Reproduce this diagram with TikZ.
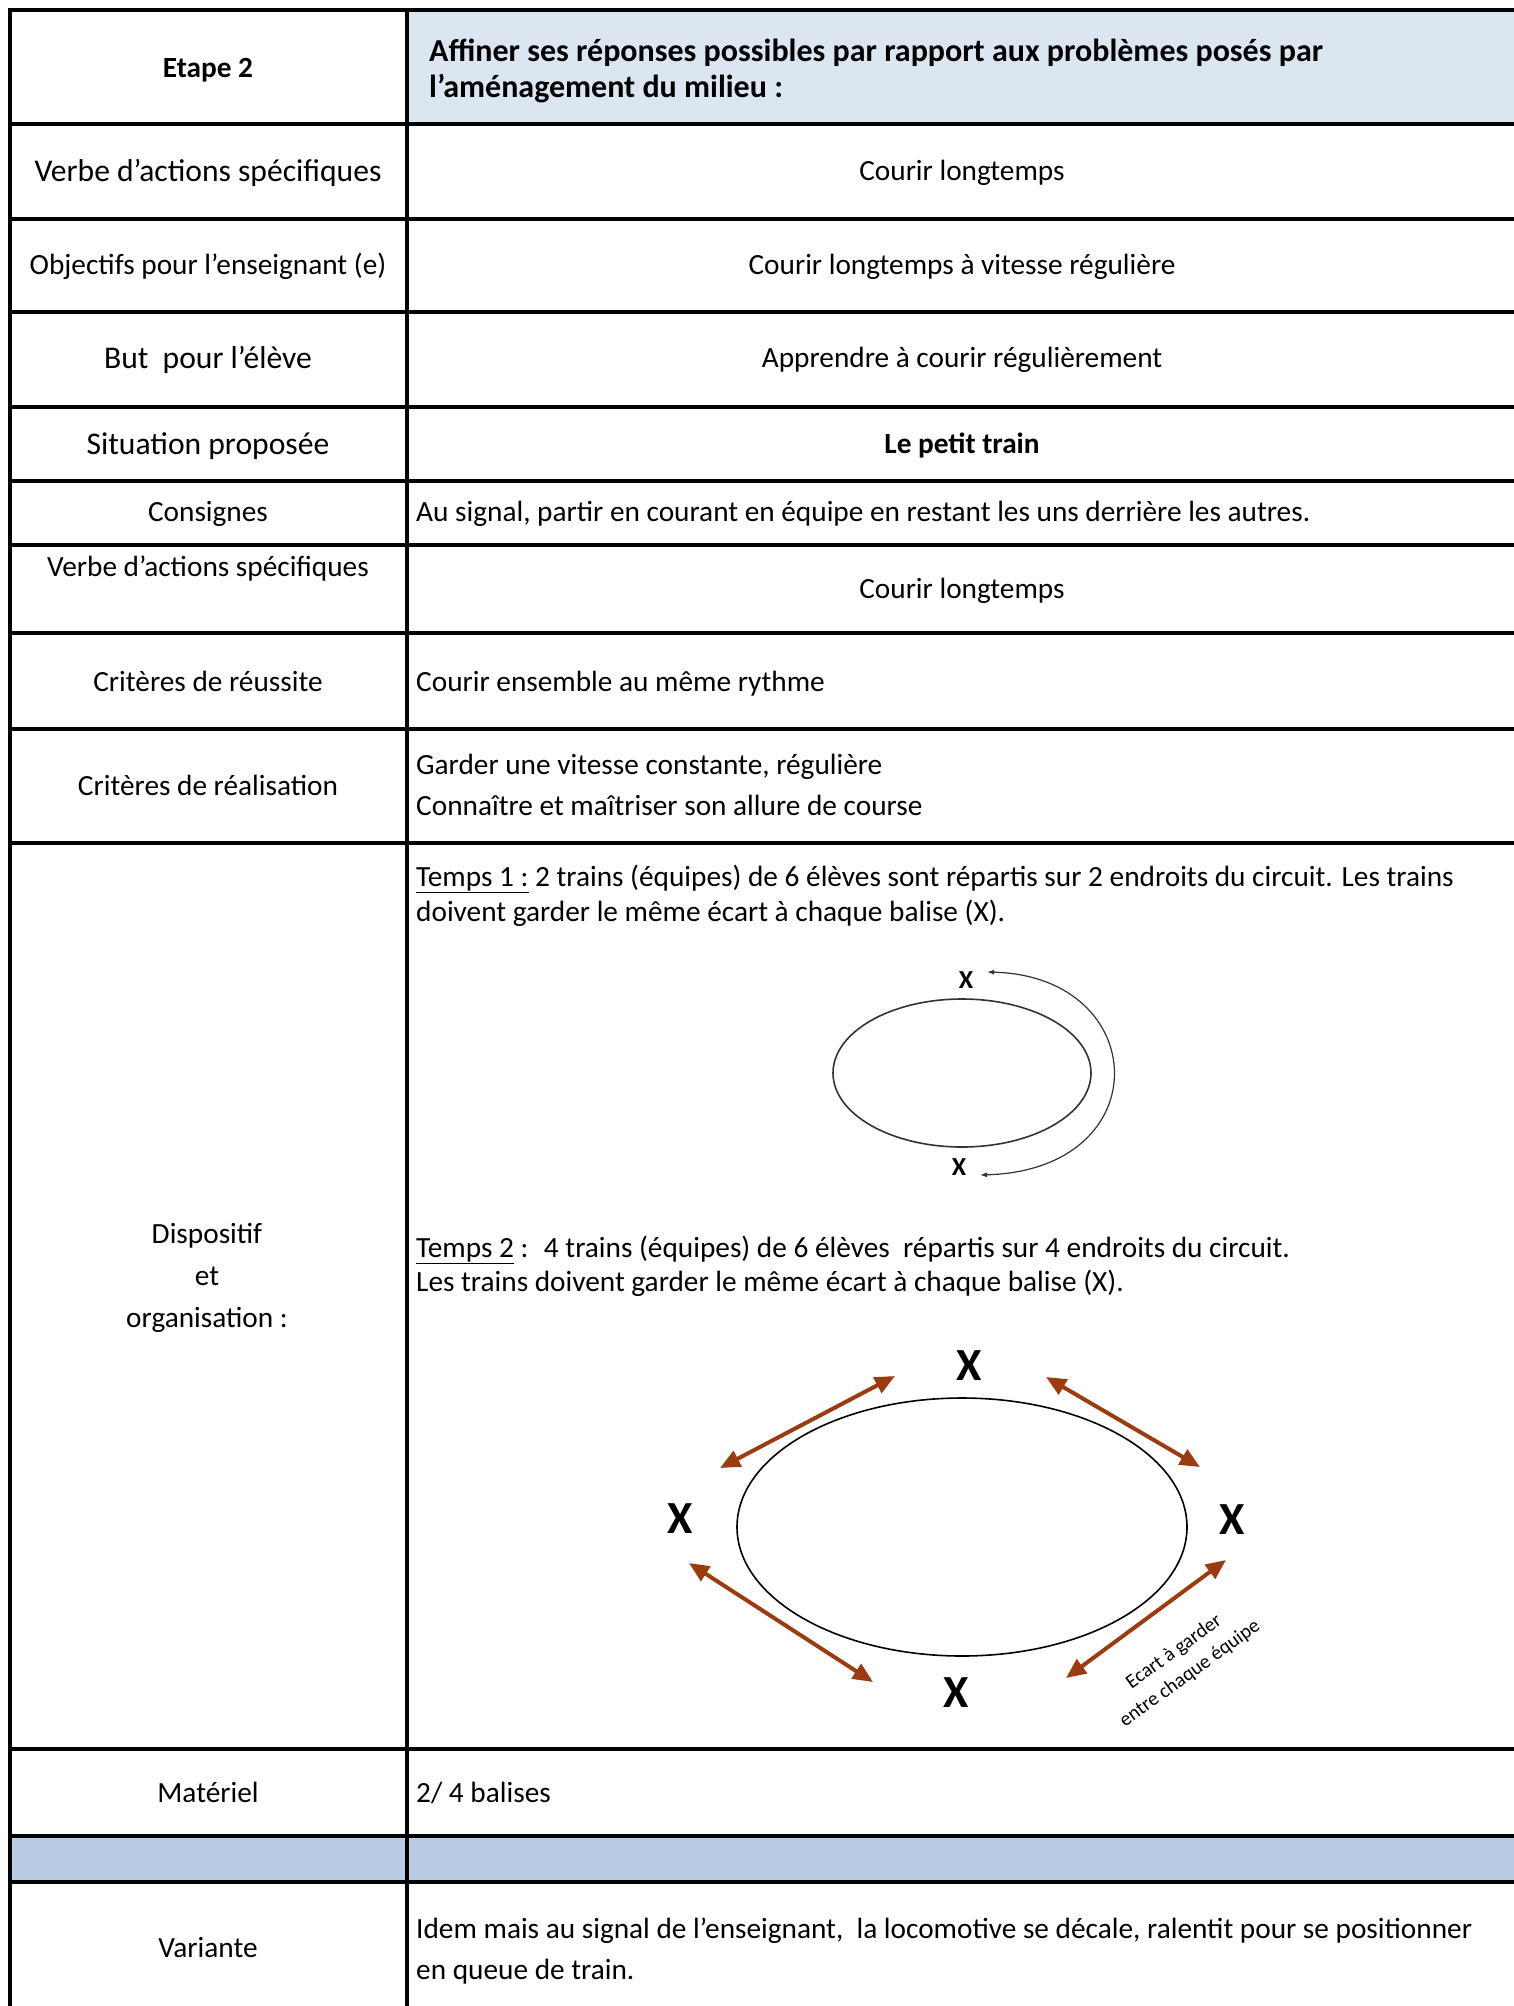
\documentclass[tikz,border=0pt]{standalone}
\usepackage{fontspec}
\setmainfont{Carlito}
\usetikzlibrary{arrows.meta}
\usepackage{xcolor}
\definecolor{headblue}{RGB}{220,230,241}
\definecolor{bandblue}{RGB}{184,204,228}
\definecolor{arrowbrown}{RGB}{156,58,16}

\begin{document}
\begin{tikzpicture}[x=1pt,y=-1pt,every node/.style={inner sep=0pt},
    lab/.style={font=\fontsize{29.3}{35}\selectfont,anchor=base},
    biglab/.style={font=\fontsize{31.6}{38}\selectfont,anchor=base},
    txt/.style={font=\fontsize{29.3}{35}\selectfont,anchor=base west},
    boldtxt/.style={font=\fontsize{32}{38}\selectfont\bfseries,anchor=base west},
    rule/.style={line width=3.2pt},
    track/.style={line width=1.6pt},
    brownarrow/.style={line width=4pt,color=arrowbrown,<->,>={Triangle[length=20pt,width=17pt]}},
    smallx/.style={font=\fontsize{26}{30}\selectfont\bfseries},
    bigx/.style={font=\fontsize{46}{50}\selectfont\bfseries}]
    \useasboundingbox (0,0) rectangle (1514,2006);
    % cell colours
    \fill[headblue] (407,10) rectangle (1514,124);
    \fill[bandblue] (10,1836) rectangle (1514,1882);
    % table rules
    \foreach \y in {10,124,219,312,407,481,545,633,729,843,1749,1836,1882}
    \draw[rule] (8.4,\y) -- (1514,\y);
    \foreach \x in {10,407}
    \draw[rule] (\x,8.4) -- (\x,2006);

    % left column
    \node[lab,font=\fontsize{29.3}{35}\selectfont\bfseries] (l1) at (208,77) {Etape 2};
    \node[biglab] (l2) at (208,181) {Verbe d’actions spécifiques};
    \node[lab] (l3) at (208,274) {Objectifs pour l’enseignant (e)};
    \node[biglab] (l4) at (208,368) {But~ pour l’élève};
    \node[biglab] (l5) at (208,454) {Situation proposée};
    \node[lab] (l6) at (208,521) {Consignes};
    \node[lab] (l7) at (208,576) {Verbe d’actions spécifiques};
    \node[lab] (l8) at (208,691) {Critères de réussite};
    \node[lab] (l9) at (208,795) {Critères de réalisation};
    \node[lab] (l10a) at (207,1243) {Dispositif};
    \node[lab] (l10b) at (207,1285) {et};
    \node[lab] (l10c) at (207,1327) {organisation :};
    \node[lab] (l11) at (208,1802) {Matériel};
    \node[lab] (l13) at (208,1957) {Variante};

    % right column
    \node[boldtxt] (r1a) at (429,61) {Affiner ses réponses possibles par rapport aux problèmes posés par};
    \node[boldtxt] (r1b) at (429,97) {l’aménagement du milieu :};
    \node[lab] (r2) at (962,180) {Courir longtemps};
    \node[lab] (r3) at (962,274) {Courir longtemps à vitesse régulière};
    \node[lab] (r4) at (962,367) {Apprendre à courir régulièrement};
    \node[lab,font=\fontsize{29.3}{35}\selectfont\bfseries] (r5) at (962,453) {Le petit train};
    \node[txt] (r6) at (416,521) {Au signal, partir en courant en équipe en restant les uns derrière les autres.};
    \node[lab] (r7) at (962,598) {Courir longtemps};
    \node[txt] (r8) at (416,691) {Courir ensemble au même rythme};
    \node[txt] (r9a) at (416,774) {Garder une vitesse constante, régulière};
    \node[txt] (r9b) at (416,815) {Connaître et maîtriser son allure de course};
    \node[txt] (t1a) at (416,886) {\underline{Temps 1 :} 2 trains (équipes) de 6 élèves sont répartis sur 2 endroits du circuit. Les trains};
    \node[txt] (t1b) at (416,921) {doivent garder le même écart à chaque balise (X).};
    \node[txt] (t2a) at (416,1257) {\underline{Temps 2} :~ 4 trains (équipes) de 6 élèves~ répartis sur 4 endroits du circuit.};
    \node[txt] (t2b) at (416,1291) {Les trains doivent garder le même écart à chaque balise (X).};
    \node[txt] (r11) at (416,1802) {2/ 4 balises};
    \node[txt] (r13a) at (416,1938) {Idem mais au signal de l’enseignant,~ la locomotive se décale, ralentit pour se positionner};
    \node[txt] (r13b) at (416,1979) {en queue de train.};

    % circuit, temps 1
    \draw[track,black!80] (962,1073) ellipse [x radius=129pt,y radius=74pt];
    \node[smallx] (xa) at (966,980) {X};
    \node[smallx] (xb) at (959,1167) {X};
    \coordinate (c1) at (987,972);
    \coordinate (c2) at (980,1175);
    \draw[line width=1.2pt,black!80,<->,>={Latex[length=7pt,width=5pt]}] (c1) .. controls (1152,976) and (1160,1170) .. (c2);

    % circuit, temps 2
    \draw[track] (962,1527) ellipse [x radius=225pt,y radius=129pt];
    \node[bigx] (xn) at (969,1366) {X};
    \node[bigx] (xw) at (680,1519) {X};
    \node[bigx] (xe) at (1232,1520) {X};
    \node[bigx] (xs) at (956,1693) {X};
    \coordinate (a1) at (720,1468);
    \coordinate (a2) at (895,1376);
    \coordinate (b1) at (1046,1377);
    \coordinate (b2) at (1200,1467);
    \coordinate (d1) at (689,1563);
    \coordinate (d2) at (873,1682);
    \coordinate (e1) at (1066,1678);
    \coordinate (e2) at (1226,1560);
    \foreach \from/\to in
    {a1/a2,b1/b2,d1/d2,e1/e2}
    \draw[brownarrow] (\from) -- (\to);
    \node[rotate=36,align=center,font=\fontsize{20}{27}\selectfont] (gap) at (1182,1663) {Ecart à garder\\entre chaque équipe};
\end{tikzpicture}
\end{document}
